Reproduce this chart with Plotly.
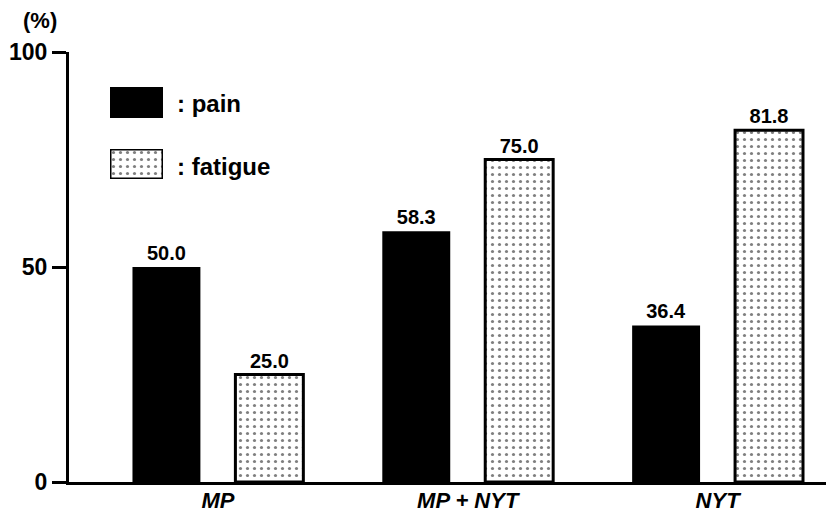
import plotly.graph_objects as go

categories = ["<i>MP</i>", "<i>MP + NYT</i>", "<i>NYT</i>"]
pain = [50.0, 58.3, 36.4]
fatigue = [25.0, 75.0, 81.8]
y_ticks = [0, 50, 100]

FONT = "Arial, Liberation Sans, Helvetica, sans-serif"
DOTS = dict(shape=".", fgcolor="black", bgcolor="white", size=7, solidity=0.16, fillmode="overlay")

fig = go.Figure()
fig.add_trace(go.Bar(
    x=categories, y=pain, name="pain",
    marker=dict(color="black", line=dict(color="black", width=0)),
    texttemplate="%{y:.1f}", textposition="outside", cliponaxis=False,
    textfont=dict(family=FONT, size=20, color="black", weight="bold"),
    showlegend=False,
))
fig.add_trace(go.Bar(
    x=categories, y=fatigue, name="fatigue",
    marker=dict(color="white", line=dict(color="black", width=3), pattern=DOTS),
    texttemplate="%{y:.1f}", textposition="outside", cliponaxis=False,
    textfont=dict(family=FONT, size=20, color="black", weight="bold"),
    showlegend=False,
))

# legend swatches on small hidden axes
fig.add_trace(go.Bar(x=[0], y=[1], width=[1], xaxis="x2", yaxis="y2",
                     marker=dict(color="black", line=dict(width=0)),
                     showlegend=False, hoverinfo="skip"))
fig.add_trace(go.Bar(x=[0], y=[1], width=[1], xaxis="x3", yaxis="y3",
                     marker=dict(color="white", line=dict(color="black", width=3), pattern=DOTS),
                     showlegend=False, hoverinfo="skip"))

hidden = dict(visible=False, fixedrange=True)
W, H = 826, 516
L, T, B = 69, 52, 34
pw, ph = W - L, H - T - B

def px(xp):
    return (xp - L) / pw

def py(yp):
    return (H - B - yp) / ph

fig.update_layout(
    width=W, height=H,
    margin=dict(l=L, r=0, t=T, b=B),
    paper_bgcolor="white", plot_bgcolor="white",
    barmode="group", bargap=0.176, bargroupgap=0.34,
    font=dict(family=FONT, color="black"),
    xaxis=dict(range=[-0.596, 2.434], showline=True, linewidth=3, linecolor="black",
               ticks="", showgrid=False, zeroline=False, automargin=False,
               ticklabelstandoff=-3,
               tickfont=dict(family=FONT, size=22, weight="bold", color="black")),
    yaxis=dict(range=[0, 100], tickvals=y_ticks, showline=True, linewidth=3,
               linecolor="black", ticks="outside", ticklen=14, tickwidth=3,
               tickcolor="black", showgrid=False, zeroline=False, automargin=False,
               tickfont=dict(family=FONT, size=23, weight="bold", color="black")),
    xaxis2=dict(domain=[px(110), px(163)], range=[-0.5, 0.5], anchor="y2", **hidden),
    yaxis2=dict(domain=[py(118), py(87)], range=[0, 1], anchor="x2", **hidden),
    xaxis3=dict(domain=[px(110), px(163)], range=[-0.5, 0.5], anchor="y3", **hidden),
    yaxis3=dict(domain=[py(179), py(149)], range=[0, 1], anchor="x3", **hidden),
    annotations=[
        dict(text=": pain", x=px(175), y=py(104), xref="paper", yref="paper",
             xanchor="left", yanchor="middle", showarrow=False,
             font=dict(family=FONT, size=24, weight="bold", color="black")),
        dict(text=": fatigue", x=px(175), y=py(166), xref="paper", yref="paper",
             xanchor="left", yanchor="middle", showarrow=False,
             font=dict(family=FONT, size=24, weight="bold", color="black")),
        dict(text="(%)", x=px(21), y=py(20), xref="paper", yref="paper",
             xanchor="left", yanchor="middle", showarrow=False,
             font=dict(family=FONT, size=22, weight="bold", color="black")),
    ],
)

fig.write_html("out.html", config={"displayModeBar": False},
               post_script="document.body.style.margin='0';document.body.style.padding='0';")
